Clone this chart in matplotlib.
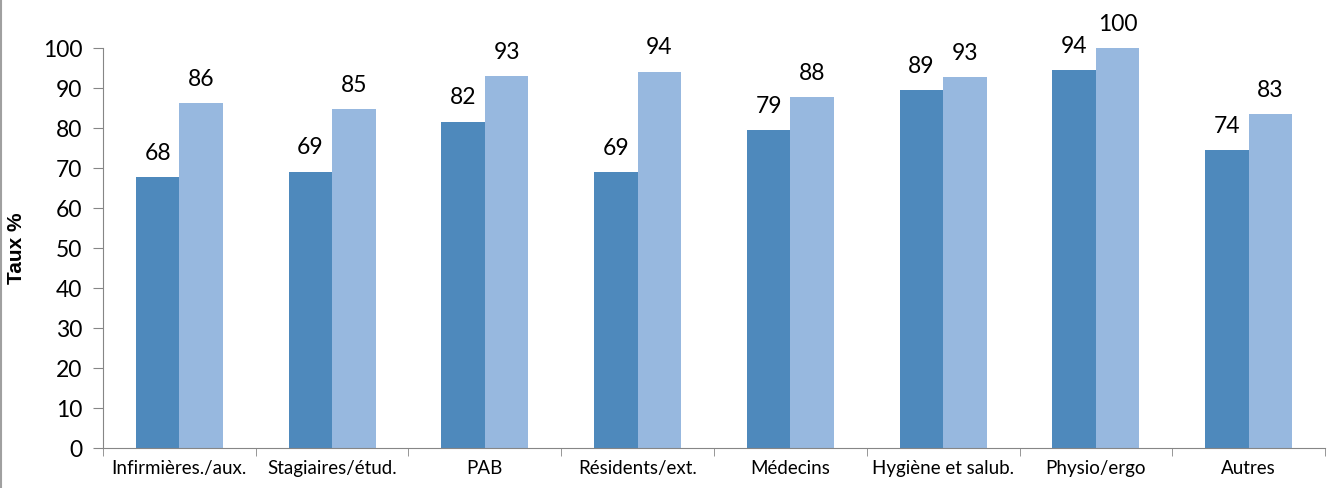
import matplotlib
matplotlib.use("Agg")
import matplotlib.pyplot as plt
import numpy as np

categories = ["Infirmières./aux.", "Stagiaires/étud.", "PAB", "Résidents/ext.",
              "Médecins", "Hygiène et salub.", "Physio/ergo", "Autres"]
serie1 = [67.6, 69.0, 81.5, 68.8, 79.4, 89.3, 94.4, 74.3]
serie2 = [86.1, 84.7, 92.8, 94.0, 87.7, 92.6, 99.9, 83.4]
yticks = list(range(0, 101, 10))

fig = plt.figure(figsize=(13.27, 4.89), dpi=100)
ax = fig.add_axes([0.0776, 0.0828, 0.9209, 0.818])

x = np.arange(len(categories))
w = 0.285
b1 = ax.bar(x - w / 2, serie1, w, color="#4E89BC", edgecolor="none")
b2 = ax.bar(x + w / 2, serie2, w, color="#97B8DF", edgecolor="none")

for bars, vals in ((b1, serie1), (b2, serie2)):
    for r, v in zip(bars, vals):
        ax.annotate(f"{v:.0f}", (r.get_x() + r.get_width() / 2, v),
                    xytext=(0, 13), textcoords="offset points",
                    ha="center", va="baseline", fontsize=16.5, family="Lato")

ax.set_xlim(-0.5, len(categories) - 0.5)
ax.set_ylim(0, 100)
ax.set_yticks(yticks)
ax.set_yticklabels([str(t) for t in yticks], fontsize=16.5, family="Lato")
ax.set_xticks(x)
ax.set_xticklabels(categories, fontsize=13.5, family="Lato")
ax.set_xticks(np.arange(-0.5, len(categories)), minor=True)
ax.tick_params(axis="x", which="major", length=0, pad=8)
ax.tick_params(axis="x", which="minor", length=6, color="#868686")
ax.tick_params(axis="y", length=7, color="#868686", pad=8)

for s in ["top", "right"]:
    ax.spines[s].set_visible(False)
for s in ["left", "bottom"]:
    ax.spines[s].set_color("#868686")

ax.set_ylabel("Taux %", fontsize=15, fontweight="bold", family="Liberation Sans", labelpad=12)

fig.add_artist(plt.Line2D([0.001, 0.001], [0, 1], color="#A0A0A0", lw=1.5))

fig.savefig("out.png", dpi=100)
